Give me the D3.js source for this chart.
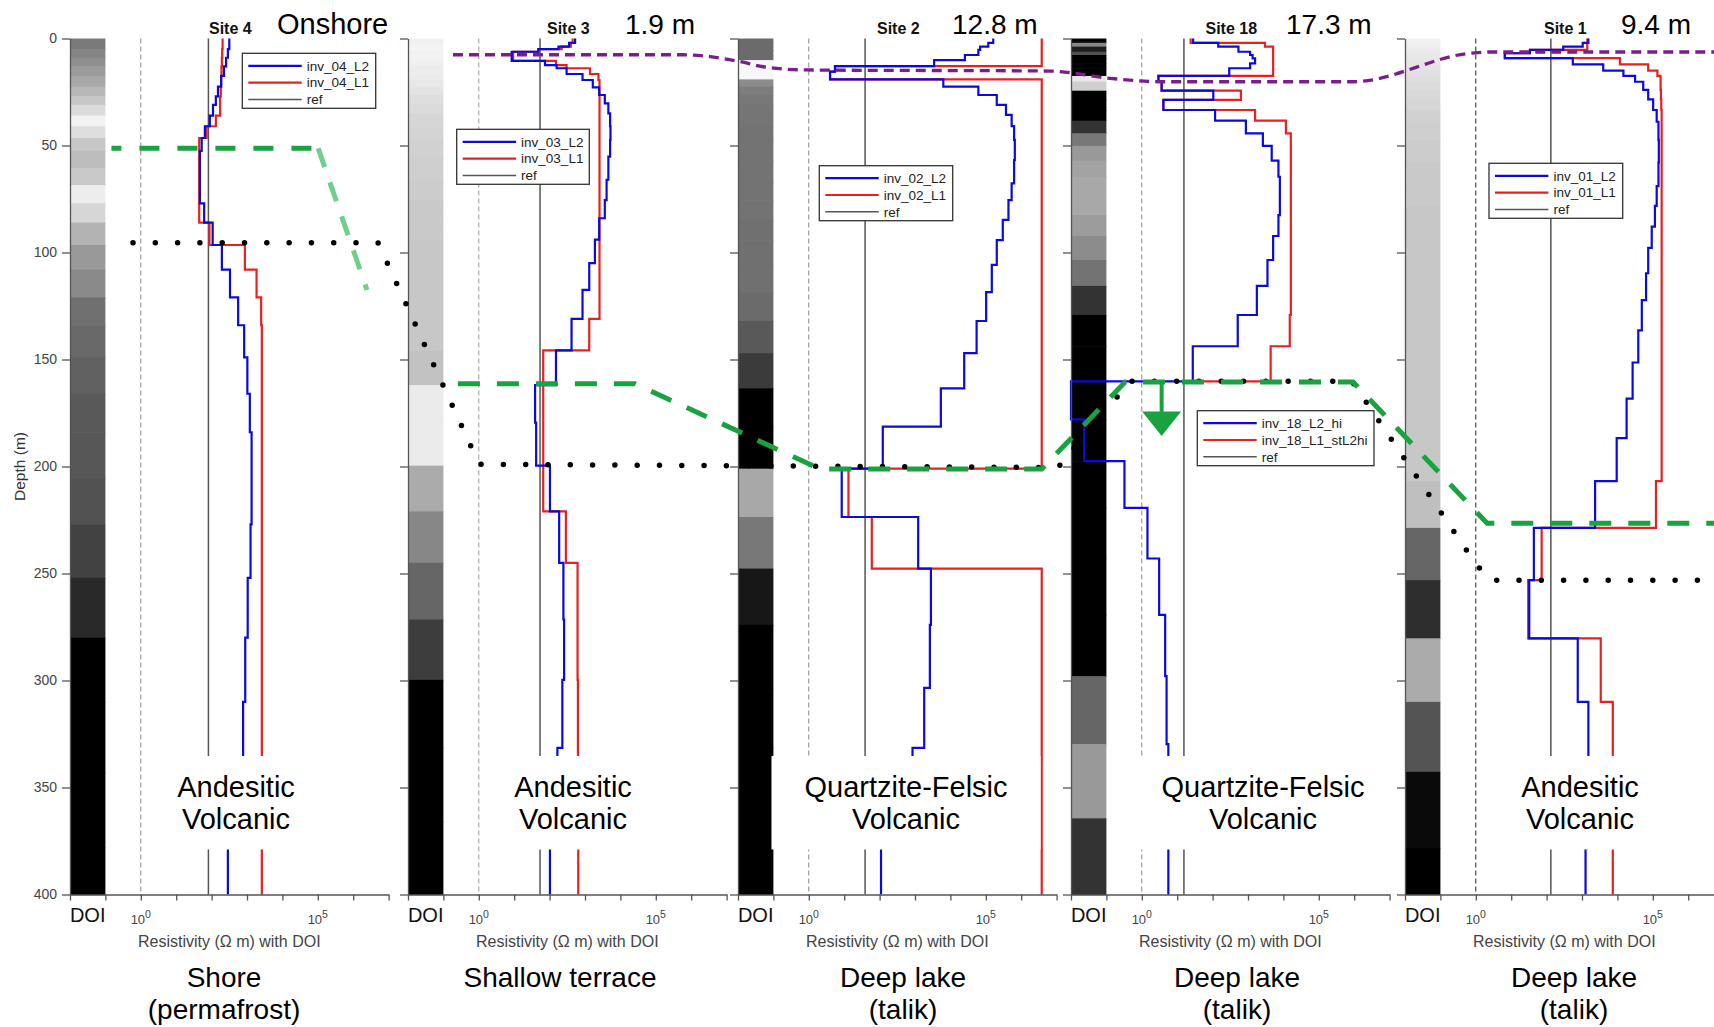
<!DOCTYPE html>
<html><head><meta charset="utf-8">
<script src="https://cdn.jsdelivr.net/npm/d3@7"></script>
<style>
body{margin:0;background:#fff}
svg{display:block}
text{font-family:"Liberation Sans",Arial,Helvetica,sans-serif}
</style>
</head><body>
<svg id="c" width="1714" height="1027"></svg>
<script>
// ---------------- DATA ----------------
const siteNames = ["Site 4", "Site 3", "Site 2", "Site 18", "Site 1"];
const waterDepthLabels = ["Onshore", "1.9 m", "12.8 m", "17.3 m", "9.4 m"];
const settingLabels = [["Shore", "(permafrost)"], ["Shallow terrace"], ["Deep lake", "(talik)"], ["Deep lake", "(talik)"], ["Deep lake", "(talik)"]];
const geologyLabels = [["Andesitic", "Volcanic"], ["Andesitic", "Volcanic"], ["Quartzite-Felsic", "Volcanic"], ["Quartzite-Felsic", "Volcanic"], ["Andesitic", "Volcanic"]];
const legendL2Names = ["inv_04_L2", "inv_03_L2", "inv_02_L2", "inv_18_L2_hi", "inv_01_L2"];
const legendL1Names = ["inv_04_L1", "inv_03_L1", "inv_02_L1", "inv_18_L1_stL2hi", "inv_01_L1"];
const legendRefName = "ref";
const depthTicks = [0, 50, 100, 150, 200, 250, 300, 350, 400];
const resistivityTickExps = [-2, -1, 0, 1, 2, 3, 4, 5, 6, 7];
const resistivityLabelExps = [0, 5];
const xAxisTitle = "Resistivity (\u03A9 m) with DOI";
const yAxisTitle = "Depth (m)";
const doiLabel = "DOI";
// reference resistivity per site (log10 ohm m)
const refLog10 = [1.91, 1.73, 1.59, 1.19, 2.12];

// Site 4 (onshore): layer tops (m), log10 resistivity, DOI darkness (0 white - 1 black)
const site4Tops = [0, 5, 9, 13, 17.5, 22.5, 27, 31, 36, 41, 46.5, 52.5, 60.5, 68.5, 77, 86, 96.5, 108, 121, 134, 149, 166, 184, 205, 227, 252, 280, 310, 343, 378];
const site4L2 = [2.50, 2.46, 2.41, 2.35, 2.27, 2.18, 2.12, 2.04, 1.95, 1.81, 1.72, 1.67, 1.67, 1.67, 1.79, 2.03, 2.29, 2.52, 2.75, 2.92, 3.01, 3.08, 3.13, 3.13, 3.10, 3.02, 2.95, 2.89, 2.60, 2.46];
const site4L1 = [2.31, 2.30, 2.29, 2.28, 2.27, 2.26, 2.24, 2.24, 2.12, 1.86, 1.65, 1.65, 1.65, 1.65, 1.65, 1.94, 2.94, 3.27, 3.40, 3.42, 3.42, 3.42, 3.42, 3.42, 3.42, 3.42, 3.42, 3.42, 3.42, 3.42];
const site4Doi = [0.52, 0.48, 0.44, 0.39, 0.34, 0.28, 0.22, 0.14, 0.05, 0.13, 0.22, 0.26, 0.21, 0.07, 0.16, 0.30, 0.40, 0.46, 0.56, 0.59, 0.62, 0.65, 0.66, 0.68, 0.74, 0.84, 1, 1, 1, 1];

// Site 3 (1.9 m)
const site3Tops = [0, 2, 3.8, 5, 6.2, 10.5, 12.4, 13.9, 16.6, 19.4, 22.8, 26.4, 30.3, 35, 41, 47.4, 55.2, 66, 75.5, 84, 94, 105, 117.5, 131, 145.7, 162, 179.5, 199.6, 221, 245, 271.5, 299.7, 331.5, 366];
const site3L2 = [2.72, 2.55, 2.25, 1.68, 0.93, 1.87, 2.20, 2.48, 2.93, 3.22, 3.40, 3.56, 3.66, 3.71, 3.72, 3.71, 3.66, 3.61, 3.56, 3.40, 3.28, 3.12, 2.93, 2.62, 2.18, 1.59, 1.62, 2.01, 2.27, 2.39, 2.41, 2.36, 2.22, 2.01];
const site3L1 = [2.65, 2.60, 2.34, 1.68, 0.97, 2.18, 2.48, 3.14, 3.38, 3.41, 3.41, 3.41, 3.41, 3.41, 3.41, 3.41, 3.41, 3.41, 3.41, 3.41, 3.41, 3.41, 3.41, 3.12, 1.82, 1.82, 1.82, 1.82, 2.46, 2.79, 2.79, 2.80, 2.80, 2.81];
const site3Doi = [0.06, 0.05, 0.04, 0.05, 0.05, 0.06, 0.07, 0.07, 0.08, 0.09, 0.11, 0.13, 0.14, 0.16, 0.17, 0.18, 0.19, 0.20, 0.21, 0.21, 0.22, 0.22, 0.22, 0.22, 0.24, 0.08, 0.08, 0.33, 0.47, 0.60, 0.76, 1, 1, 1];

// Site 2 (12.8 m)
const site2Tops = [0, 2, 3.8, 5.3, 7.7, 10.1, 12.9, 15.5, 19.1, 22.5, 26.4, 31, 35.7, 40.9, 47.4, 56.8, 67.7, 75.5, 84.8, 94.2, 105.8, 118.5, 132, 147, 163.5, 181.4, 201, 223.6, 247.7, 274, 303.4, 331.5, 366];
const site2L2 = [5.21, 5.07, 4.84, 4.79, 4.41, 3.54, 0.74, 0.60, 3.80, 4.79, 5.31, 5.57, 5.73, 5.80, 5.82, 5.80, 5.73, 5.64, 5.48, 5.31, 5.17, 5.01, 4.74, 4.39, 3.73, 2.09, 0.93, 3.09, 3.45, 3.42, 3.26, 2.93, 2.04];
const site2L1 = [6.58, 6.58, 6.58, 6.58, 6.58, 6.58, 0.74, 0.60, 6.58, 6.58, 6.58, 6.58, 6.58, 6.58, 6.58, 6.58, 6.58, 6.58, 6.58, 6.58, 6.58, 6.58, 6.58, 6.58, 6.58, 6.58, 1.12, 1.78, 6.58, 6.58, 6.58, 6.58, 6.58];
const site2Doi = [0.58, 0.58, 0.58, 0.58, 0.58, 0.03, 0.03, 0.03, 0.45, 0.51, 0.53, 0.54, 0.54, 0.55, 0.55, 0.55, 0.55, 0.55, 0.56, 0.56, 0.56, 0.58, 0.65, 0.77, 1, 1, 0.34, 0.53, 0.91, 1, 1, 1, 1];

// Site 18 (17.3 m)
const site18Tops = [0, 2, 3.8, 6.2, 7.7, 9.3, 11.6, 13.9, 17.5, 20.2, 24.4, 28.7, 33.4, 38.4, 44.3, 50.2, 57.1, 64.6, 73, 82.5, 92.3, 103.5, 115.6, 129.2, 143.8, 160.2, 178, 197.5, 219.3, 243, 269.3, 298, 329.7, 364.4];
const site18L2 = [1.45, 2.16, 2.73, 3.06, 3.13, 3.20, 3.06, 2.47, 0.47, 0.56, 2.02, 0.61, 2.07, 2.94, 3.42, 3.67, 3.86, 3.90, 3.90, 3.86, 3.71, 3.55, 3.25, 2.71, 1.44, -2.0, -1.63, -0.49, 0.16, 0.49, 0.66, 0.70, 0.75, 0.75];
const site18L1 = [1.38, 3.48, 3.71, 3.71, 3.71, 3.71, 3.71, 3.71, 0.47, 0.56, 2.80, 0.61, 3.20, 4.07, 4.21, 4.21, 4.21, 4.21, 4.21, 4.21, 4.21, 4.21, 4.21, 4.18, 3.64, 1.44];
const site18L1MaxDepth = 160.2;
const site18Doi = [0.98, 0.47, 0.88, 0.68, 1, 1, 1, 1, 0.09, 0.19, 1, 1, 1, 0.80, 0.53, 0.40, 0.36, 0.34, 0.34, 0.39, 0.45, 0.55, 0.80, 1, 1, 1, 1, 1, 1, 1, 1, 0.60, 0.40, 0.80];

// Site 1 (9.4 m)
const site1Tops = [0, 2, 3.8, 5.3, 6.9, 9.2, 12.1, 15, 17.5, 20.2, 24, 28.4, 33.4, 38.9, 47.4, 58, 69, 78.2, 87.9, 97.8, 109.7, 122.3, 136.4, 151.4, 168.3, 186.7, 206.8, 228.7, 253.1, 280.3, 310, 342.7, 378.5];
const site1L2 = [3.18, 3.02, 2.47, 1.53, 0.82, 2.74, 3.60, 4.17, 4.50, 4.73, 4.87, 5.01, 5.11, 5.16, 5.17, 5.16, 5.11, 5.06, 4.97, 4.87, 4.81, 4.69, 4.59, 4.43, 4.26, 3.98, 3.37, 1.64, 1.51, 2.88, 3.18, 3.14, 3.10];
const site1L1 = [3.15, 3.15, 3.15, 1.53, 0.82, 4.07, 4.87, 5.13, 5.22, 5.22, 5.23, 5.24, 5.25, 5.25, 5.25, 5.25, 5.25, 5.25, 5.25, 5.25, 5.25, 5.25, 5.25, 5.25, 5.25, 5.25, 5.09, 1.86, 1.48, 3.53, 3.87, 3.87, 3.87];
const site1Doi = [0.05, 0.06, 0.07, 0.08, 0.09, 0.10, 0.11, 0.12, 0.13, 0.14, 0.15, 0.16, 0.18, 0.19, 0.20, 0.21, 0.21, 0.22, 0.22, 0.22, 0.22, 0.22, 0.22, 0.22, 0.22, 0.22, 0.25, 0.60, 0.82, 0.33, 0.67, 0.96, 1];

// Interpreted boundaries: [panel index, log10 resistivity position, depth m]
const lakeBottomLine = [[1, -0.73, 7.6], [1, 5.77, 7.6], [2, -1.94, 10.8], [2, -1.29, 13.2], [2, -0.06, 14.7], [2, 6.79, 15.2], [3, -0.90, 18.6], [3, 0.51, 20.2], [3, 5.97, 20.2], [4, -0.16, 6.9], [4, 0.40, 6.3], [4, 6.73, 6.3]];
const permafrostLineA = [[0, -0.83, 51.3], [0, 5.01, 51.3]];
const permafrostLineB = [[0, 5.01, 51.3], [0, 6.39, 117.5]];
const permafrostLineC = [[1, -0.59, 161.3], [1, 4.41, 161.3], [2, 0.32, 201.2], [2, 6.58, 201.2], [3, -0.47, 160.5], [3, 5.97, 160.5], [4, 0.32, 226.5], [4, 6.73, 226.5]];
const doiLimitLine = [[0, -0.22, 95.4], [0, 6.70, 95.4], [1, 0.01, 199], [2, 7.04, 200.5], [3, -0.33, 160.2], [3, 5.94, 160.2], [4, 0.03, 246.2], [4, 0.45, 253.1], [4, 6.73, 253.1]];
const arrowMark = {panel: 3, log10: 0.56, fromDepth: 161, toDepth: 185.7};

const sites = [
  {tops: site4Tops, l2: site4L2, l1: site4L1, doi: site4Doi, l1Max: null},
  {tops: site3Tops, l2: site3L2, l1: site3L1, doi: site3Doi, l1Max: null},
  {tops: site2Tops, l2: site2L2, l1: site2L1, doi: site2Doi, l1Max: null},
  {tops: site18Tops, l2: site18L2, l1: site18L1, doi: site18Doi, l1Max: site18L1MaxDepth},
  {tops: site1Tops, l2: site1L2, l1: site1L1, doi: site1Doi, l1Max: null}
];

// ---------------- LAYOUT ----------------
const panelX = [70, 408, 738, 1071, 1405];
const plotW = 318.6, yTop = 38.5, yBot = 894.5;
const legendBox = [[172.3, 53.3, 133.4], [48.7, 129.3, 132.6], [81.3, 165.7, 133.4], [126.3, 410.7, 176.7], [84, 163.3, 133.7]];
const waterLabelDx = [207, 217, 214, 215, 216];
const settingDx = [154, 152, 165, 166, 169];
const geologyDx = [166, 165, 168, 192, 175];
const dashColors = ["#888", "#999", "#888", "#888", "#222"];
const BLUE = "#0a0ae0", RED = "#e82020", REFC = "#555";
const GREEN = "#19a340", LGREEN = "#70cf8c", PURPLE = "#7a1e8e";

const x = d3.scaleLinear().domain([-2, 7]).range([0, plotW]);
const y = d3.scaleLinear().domain([0, 400]).range([yTop, yBot]);
const gray = d3.scaleLinear().domain([0, 1]).range(["#ffffff", "#000000"]);
const gx = (p, v) => panelX[p] + x(v);

const svg = d3.select("#c");
svg.append("rect").attr("width", 1714).attr("height", 1027).attr("fill", "#fff");

sites.forEach((s, p) => {
  const g = svg.append("g").attr("transform", `translate(${panelX[p]},0)`);
  const layers = s.tops.map((t, i) => ({top: t, bottom: i + 1 < s.tops.length ? s.tops[i + 1] : 400, v: s.doi[i]}));
  g.selectAll("rect.doi").data(layers).join("rect").attr("class", "doi")
    .attr("x", x(-2)).attr("width", x(-1) - x(-2))
    .attr("y", d => y(d.top)).attr("height", d => y(d.bottom) - y(d.top) + 0.6)
    .attr("fill", d => gray(d.v));

  g.append("line").attr("x1", x(0)).attr("x2", x(0)).attr("y1", yTop).attr("y2", yBot)
    .attr("stroke", dashColors[p]).attr("stroke-width", 1).attr("stroke-dasharray", "5,3");
  g.append("line").attr("x1", x(refLog10[p])).attr("x2", x(refLog10[p])).attr("y1", yTop).attr("y2", yBot)
    .attr("stroke", REFC).attr("stroke-width", 1.5);

  const stepPts = (vals, maxD) => {
    const pts = [];
    vals.forEach((v, i) => {
      const top = s.tops[i];
      let bot = i + 1 < s.tops.length ? s.tops[i + 1] : 400;
      if (maxD != null) bot = Math.min(bot, maxD);
      pts.push([v, top], [v, bot]);
    });
    return pts;
  };
  const line = d3.line().x(d => x(d[0])).y(d => y(d[1]));
  g.append("path").attr("d", line(stepPts(s.l1, s.l1Max))).attr("fill", "none").attr("stroke", RED).attr("stroke-width", 2.2);
  g.append("path").attr("d", line(stepPts(s.l2, null))).attr("fill", "none").attr("stroke", BLUE).attr("stroke-width", 2.2);

  // legend
  const [lx, ly, lw] = legendBox[p];
  const lg = g.append("g").attr("transform", `translate(${lx},${ly})`);
  lg.append("rect").attr("width", lw).attr("height", 55).attr("fill", "#fff").attr("stroke", "#333").attr("stroke-width", 1.3);
  const items = [[legendL2Names[p], BLUE, 2.2], [legendL1Names[p], RED, 2.2], [legendRefName, REFC, 1.5]];
  items.forEach((it, i) => {
    const yy = 12.5 + i * 16.8;
    lg.append("line").attr("x1", 6).attr("x2", 59.4).attr("y1", yy).attr("y2", yy).attr("stroke", it[1]).attr("stroke-width", it[2]);
    lg.append("text").attr("x", 64.4).attr("y", yy + 4.8).attr("font-size", 13.5).attr("fill", "#222").text(it[0]);
  });

  // axes
  const ay = g.append("g").call(d3.axisLeft(y).tickValues(depthTicks).tickSize(8).tickSizeOuter(0).tickPadding(5)
    .tickFormat(p === 0 ? d3.format("d") : () => ""));
  const ax = g.append("g").attr("transform", `translate(0,${yBot})`)
    .call(d3.axisBottom(x).tickValues(resistivityTickExps).tickSize(6).tickSizeOuter(0).tickFormat(() => ""));
  [ay, ax].forEach(a => {
    a.select(".domain").attr("stroke", "#555").attr("stroke-width", 1.3);
    a.selectAll(".tick line").attr("stroke", "#555").attr("stroke-width", 1.3);
    a.selectAll(".tick text").attr("font-size", 14).attr("fill", "#444").attr("font-family", "Liberation Sans, Arial, sans-serif");
  });
  resistivityLabelExps.forEach(e => {
    const t = g.append("text").attr("x", x(e)).attr("y", yBot + 29).attr("text-anchor", "middle").attr("font-size", 13).attr("fill", "#444");
    t.append("tspan").text("10");
    t.append("tspan").attr("dy", -6).attr("font-size", 10.5).text(String(e));
  });
  g.append("text").attr("x", x(-1.5)).attr("y", yBot + 27).attr("text-anchor", "middle").attr("font-size", 20).attr("fill", "#111").text(doiLabel);
  g.append("text").attr("x", plotW / 2).attr("y", yBot + 52).attr("text-anchor", "middle").attr("font-size", 16).attr("fill", "#444").text(xAxisTitle);

  // geology label with white box
  const gl = g.append("g");
  const gt = gl.append("text").attr("text-anchor", "middle").attr("font-size", 29).attr("fill", "#000");
  geologyLabels[p].forEach((t, i) => gt.append("tspan").attr("x", geologyDx[p]).attr("y", 797 + i * 31.5).text(t));
  const bb = gt.node().getBBox();
  gl.insert("rect", "text").attr("x", bb.x - 33).attr("y", bb.y - 15).attr("width", bb.width + 66).attr("height", bb.height + 30).attr("fill", "#fff");

  // titles
  g.append("text").attr("x", plotW / 2 + 1).attr("y", 34).attr("text-anchor", "middle").attr("font-size", 16).attr("font-weight", "bold").attr("fill", "#111").text(siteNames[p]);
  g.append("text").attr("x", waterLabelDx[p]).attr("y", 34).attr("font-size", p === 0 ? 29 : 28).attr("fill", "#000").text(waterDepthLabels[p]);
  settingLabels[p].forEach((t, i) => g.append("text").attr("x", settingDx[p]).attr("y", 987 + i * 32).attr("text-anchor", "middle").attr("font-size", 28).attr("fill", "#000").text(t));
});

// y axis title
svg.append("text").attr("transform", `translate(25,${y(200)}) rotate(-90)`).attr("text-anchor", "middle").attr("font-size", 15.5).attr("fill", "#333").text(yAxisTitle);

// overlays
const ovLine = d3.line().x(d => gx(d[0], d[1])).y(d => y(d[2]));
svg.append("path").attr("d", ovLine(doiLimitLine)).attr("fill", "none").attr("stroke", "#000").attr("stroke-width", 5.5)
  .attr("stroke-linecap", "round").attr("stroke-dasharray", "0,22.3");
svg.append("path").attr("d", ovLine(permafrostLineB)).attr("fill", "none").attr("stroke", LGREEN).attr("stroke-width", 5).attr("stroke-dasharray", "20,16");
svg.append("path").attr("d", ovLine(permafrostLineA)).attr("fill", "none").attr("stroke", GREEN).attr("stroke-width", 5).attr("stroke-dasharray", "20,18").attr("stroke-dashoffset", 10);
svg.append("path").attr("d", ovLine(permafrostLineC)).attr("fill", "none").attr("stroke", GREEN).attr("stroke-width", 5).attr("stroke-dasharray", "22,17");
svg.append("path").attr("d", ovLine.curve(d3.curveMonotoneX)(lakeBottomLine)).attr("fill", "none").attr("stroke", PURPLE).attr("stroke-width", 3.3).attr("stroke-dasharray", "10,6");

// arrow
const axp = gx(arrowMark.panel, arrowMark.log10);
const headTop = y(arrowMark.toDepth) - 24.5;
svg.append("line").attr("x1", axp).attr("x2", axp).attr("y1", y(arrowMark.fromDepth)).attr("y2", headTop + 1)
  .attr("stroke", GREEN).attr("stroke-width", 4);
svg.append("path").attr("d", `M${axp - 19.5},${headTop}L${axp + 19.5},${headTop}L${axp},${y(arrowMark.toDepth)}Z`).attr("fill", GREEN);
</script>
</body></html>
